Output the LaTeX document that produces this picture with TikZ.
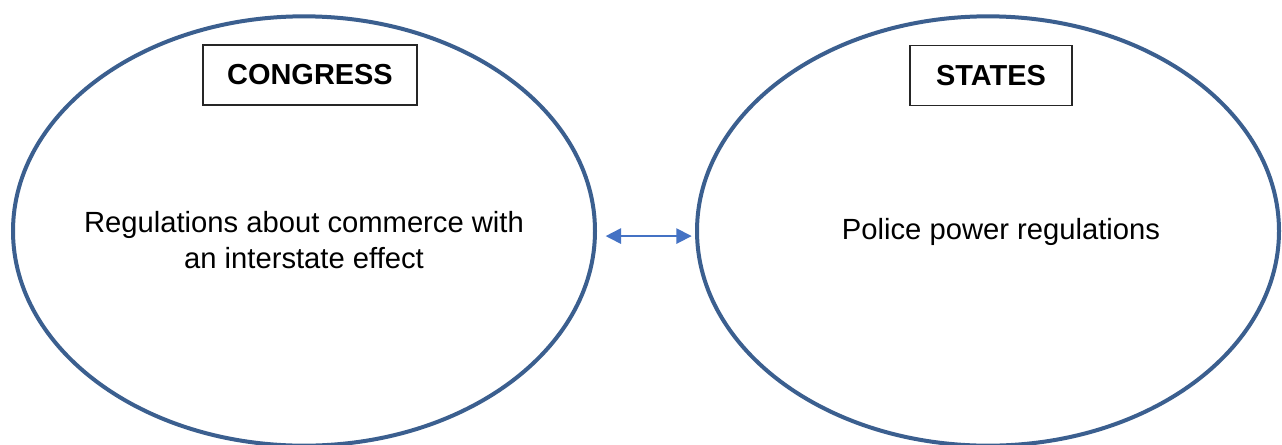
\documentclass[tikz,border=0pt]{standalone}
\usepackage{fontspec}
\setmainfont{Liberation Sans}
\usetikzlibrary{shapes.geometric,arrows.meta}
\definecolor{ringblue}{RGB}{59,95,143}
\definecolor{arrowblue}{RGB}{68,114,196}
\begin{document}
\begin{tikzpicture}[x=0.75pt,y=-0.75pt,
  ring/.style={draw=ringblue,line width=3pt,ellipse,minimum width=436.5pt,minimum height=322pt,inner sep=0pt,outer sep=0pt},
  titlebox/.style={draw=black!85,line width=0.8pt,minimum height=45pt,inner sep=0pt,font=\fontsize{21.7}{26}\selectfont\bfseries},
  bodytext/.style={align=center,font=\fontsize{21.9}{27}\selectfont},
  link/.style={arrowblue,line width=1.3pt,{Triangle[length=11.5pt,width=11.5pt]}-{Triangle[length=11.5pt,width=11.5pt]}}]
\useasboundingbox (0,0) rectangle (1282,444);
\fill[white] (0,0) rectangle (1282,444);
\node[ring] (cong) at (304,231) {};
\node[ring] (stat) at (988,231) {};
\node[titlebox,minimum width=160.5pt] (ct) at (310,75) {CONGRESS};
\node[titlebox,minimum width=121.5pt] (st) at (991,75.5) {STATES};
\node[bodytext] (cb) at (304,240) {Regulations about commerce with\\an interstate effect};
\node[bodytext] (sb) at (1001,232) {Police power regulations};
\draw[link,shorten <=8pt,shorten >=4pt] ([yshift=-3.8pt]cong.east) -- ([yshift=-3.8pt]stat.west);
\end{tikzpicture}
\end{document}
